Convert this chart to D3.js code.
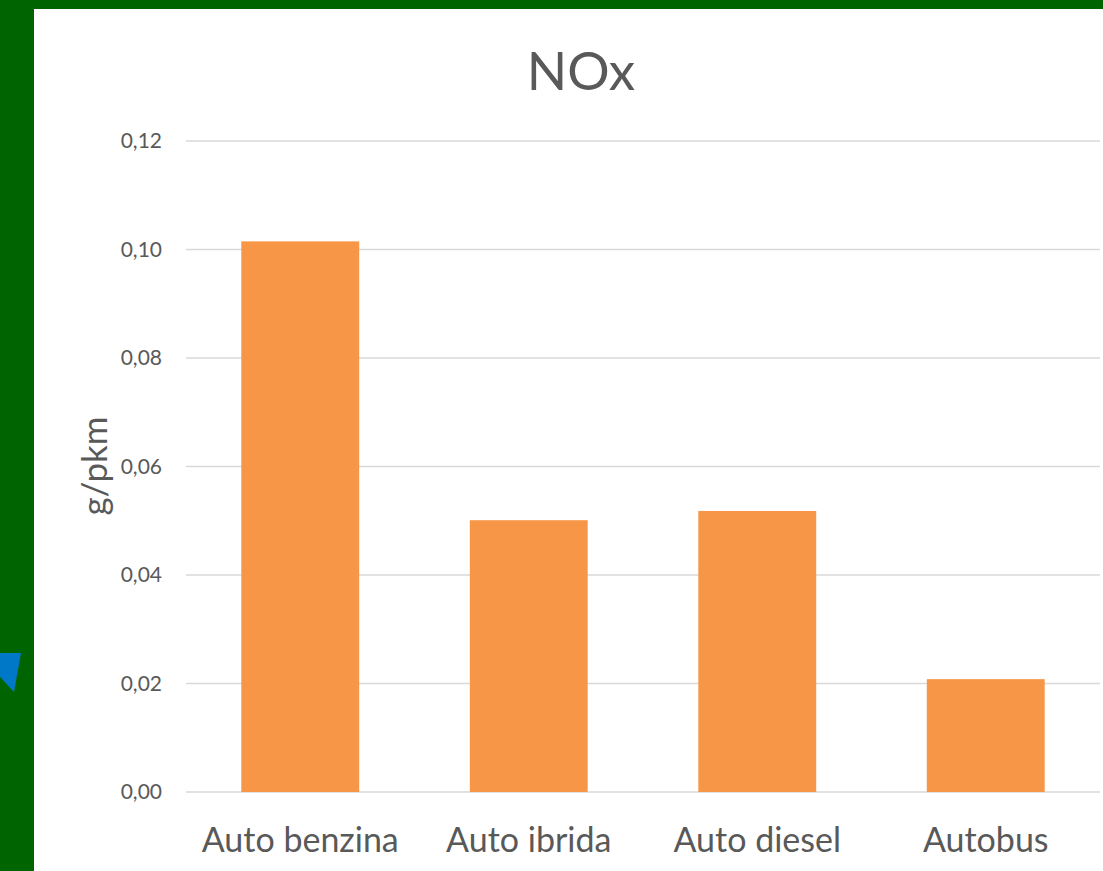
<!DOCTYPE html>
<html>
<head>
<meta charset="utf-8">
<script src="https://cdn.jsdelivr.net/npm/d3@7"></script>
<style>
	html, body { margin: 0; padding: 0; background: #006400; }
	svg { display: block; }
	text { font-family: Lato, "Open Sans", sans-serif; fill: #595959; }
</style>
</head>
<body>
<div id="chart"></div>
<script>
// chart data
const categories = ['Auto benzina', 'Auto ibrida', 'Auto diesel', 'Autobus'];
const noxValues = [0.1015, 0.0501, 0.0518, 0.0208];
const yTicks = [0, 0.02, 0.04, 0.06, 0.08, 0.10, 0.12];

const width = 1103;
const height = 871;
const plot = {left: 186, right: 1100, top: 141, bottom: 792};

const svg = d3.select('#chart').append('svg')
	.attr('width', width)
	.attr('height', height);

// green frame + white panel
svg.append('rect')
	.attr('width', width)
	.attr('height', height)
	.attr('fill', '#006400');

svg.append('rect')
	.attr('x', 34)
	.attr('y', 9)
	.attr('width', width - 34)
	.attr('height', height - 9)
	.attr('fill', '#ffffff');

// little blue shape on the left edge
svg.append('polygon')
	.attr('points', '0,653 21,653 14,692 0,677')
	.attr('fill', '#0078c8');

const x = d3.scaleBand()
	.domain(categories)
	.range([plot.left, plot.right])
	.paddingInner(0.484)
	.paddingOuter(0.242);

const y = d3.scaleLinear()
	.domain([0, 0.12])
	.range([plot.bottom, plot.top]);

const fmt = v => d3.format('.2f')(v).replace('.', ',');

// gridlines
svg.append('g')
	.selectAll('line')
	.data(yTicks)
	.enter()
	.append('line')
	.attr('x1', plot.left)
	.attr('x2', plot.right)
	.attr('y1', d => y(d))
	.attr('y2', d => y(d))
	.style('stroke', '#d9d9d9')
	.style('stroke-width', 1.5);

// y axis labels
const yAxis = svg.append('g')
	.attr('transform', `translate(${plot.left - 24},0)`)
	.call(d3.axisLeft(y).tickValues(yTicks).tickFormat(fmt).tickSize(0).tickPadding(0));

yAxis.select('.domain').remove();
yAxis.selectAll('text')
	.style('font-size', '21px')
	.style('fill', '#595959');

// bars
svg.append('g')
	.selectAll('rect')
	.data(noxValues)
	.enter()
	.append('rect')
	.attr('x', (d, i) => x(categories[i]))
	.attr('y', d => y(d))
	.attr('width', x.bandwidth())
	.attr('height', d => y(0) - y(d))
	.style('fill', '#f79646');

// x axis labels
const xAxis = svg.append('g')
	.attr('transform', `translate(0,${plot.bottom})`)
	.call(d3.axisBottom(x).tickSize(0).tickPadding(36));

xAxis.select('.domain').remove();
xAxis.selectAll('text')
	.style('font-size', '34px')
	.style('fill', '#595959');

// axis title
svg.append('text')
	.attr('transform', 'translate(107,466) rotate(-90)')
	.attr('text-anchor', 'middle')
	.style('font-size', '35px')
	.text('g/pkm');

// chart title
svg.append('text')
	.attr('x', 581)
	.attr('y', 90)
	.attr('text-anchor', 'middle')
	.style('font-size', '53px')
	.text('NOx');
</script>
</body>
</html>
